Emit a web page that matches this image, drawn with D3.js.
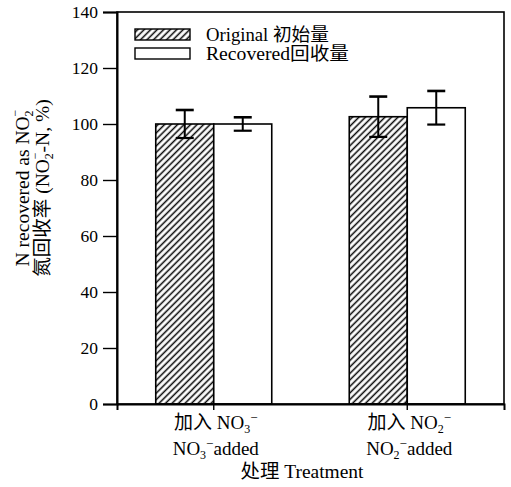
<!DOCTYPE html>
<html>
<head>
<meta charset="utf-8">
<script src="https://cdn.jsdelivr.net/npm/d3@7"></script>
<style>
  body { margin: 0; background: #fff; }
  text { font-family: "Liberation Serif", "Noto Sans CJK SC", serif; fill: #000; }
</style>
</head>
<body>
<div id="chart"></div>
<script>
const groups = ["NO3", "NO2"];
const series = ["Original 初始量", "Recovered回收量"];
const original = [100, 102.6];
const originalErr = [5, 7.2];
const recovered = [100, 105.8];
const recoveredErr = [2.4, 6];
const yTicks = [0, 20, 40, 60, 80, 100, 120, 140];

const w = 511, h = 487;
const mLeft = 117, mRight = 504, mTop = 12, mBottom = 404;

const svg = d3.select("#chart").append("svg")
    .attr("width", w)
    .attr("height", h);

// diagonal hatch for the "original" bars
svg.append("defs").append("pattern")
    .attr("id", "hatch")
    .attr("patternUnits", "userSpaceOnUse")
    .attr("width", 4.6)
    .attr("height", 4.6)
    .attr("patternTransform", "rotate(45)")
    .append("line")
    .attr("x1", 2.3).attr("y1", 0)
    .attr("x2", 2.3).attr("y2", 4.6)
    .attr("stroke", "#000")
    .attr("stroke-width", 1.5);

const y = d3.scaleLinear().domain([0, 140]).range([mBottom, mTop]);
const x0 = d3.scaleBand().domain(groups).range([mLeft, mRight]).padding(0);
const x1 = d3.scaleBand().domain(series).range([0, 116]);

const rows = groups.map((g, i) => ({
    group: g,
    bars: [
        { key: series[0], value: original[i], err: originalErr[i], fill: "url(#hatch)" },
        { key: series[1], value: recovered[i], err: recoveredErr[i], fill: "#fff" }
    ]
}));

const center = g => x0(g) + x0.bandwidth() / 2 - 58;

const gGroups = svg.selectAll(".grp")
    .data(rows)
    .enter().append("g")
    .attr("class", "grp")
    .attr("transform", d => `translate(${center(d.group)},0)`);

gGroups.selectAll("rect")
    .data(d => d.bars)
    .enter().append("rect")
    .attr("x", d => x1(d.key))
    .attr("y", d => y(d.value))
    .attr("width", x1.bandwidth())
    .attr("height", d => y(0) - y(d.value))
    .attr("fill", d => d.fill)
    .attr("stroke", "#000")
    .attr("stroke-width", 1.6);

// error bars
const eb = gGroups.selectAll(".err")
    .data(d => d.bars)
    .enter().append("g")
    .attr("class", "err")
    .attr("stroke", "#000")
    .attr("stroke-width", 2);
const ex = d => x1(d.key) + x1.bandwidth() / 2;
eb.append("line")
    .attr("x1", ex).attr("x2", ex)
    .attr("y1", d => y(d.value + d.err))
    .attr("y2", d => y(d.value - d.err));
eb.append("line")
    .attr("x1", d => ex(d) - 9).attr("x2", d => ex(d) + 9)
    .attr("y1", d => y(d.value + d.err)).attr("y2", d => y(d.value + d.err))
    .attr("stroke-width", 2.6);
eb.append("line")
    .attr("x1", d => ex(d) - 9).attr("x2", d => ex(d) + 9)
    .attr("y1", d => y(d.value - d.err)).attr("y2", d => y(d.value - d.err))
    .attr("stroke-width", 2.2);

// frame
svg.append("rect")
    .attr("x", mLeft).attr("y", mTop)
    .attr("width", mRight - mLeft).attr("height", mBottom - mTop)
    .attr("fill", "none")
    .attr("stroke", "#000")
    .attr("stroke-width", 1.6);

const yAxis = d3.axisLeft(y).tickValues(yTicks).tickSize(14).tickPadding(5);
const ya = svg.append("g")
    .attr("transform", `translate(${mLeft},0)`)
    .call(yAxis);
ya.select(".domain").attr("stroke-width", 2);
ya.selectAll(".tick line").attr("stroke-width", 1.4);
ya.selectAll("text").style("font-size", "17.5px");

const xAxis = d3.axisBottom(x0).tickSize(6).tickFormat("");
const xa = svg.append("g")
    .attr("transform", `translate(0,${mBottom})`)
    .call(xAxis);
xa.select(".domain").attr("stroke-width", 2);
xa.selectAll(".tick line").attr("stroke-width", 1.4);

// x labels
const xLab = svg.append("g").style("font-size", "19px").attr("text-anchor", "middle");
groups.forEach(g => {
    const cx = x0(g) + x0.bandwidth() / 2 + 2;
    const sub = g === "NO3" ? "3" : "2";
    const t1 = xLab.append("text").attr("x", cx).attr("y", 429);
    t1.append("tspan").text("加入 NO");
    t1.append("tspan").attr("dy", 4).style("font-size", "12px").text(sub);
    t1.append("tspan").attr("dy", -11).style("font-size", "13px").text("−");
    const t2 = xLab.append("text").attr("x", cx).attr("y", 455);
    t2.append("tspan").text("NO");
    t2.append("tspan").attr("dy", 4).style("font-size", "12px").text(sub);
    t2.append("tspan").attr("dy", -11).style("font-size", "13px").text("−");
    t2.append("tspan").attr("dy", 7).text("added");
});
xLab.append("text").attr("x", 302).attr("y", 478)
    .attr("textLength", 123).attr("lengthAdjust", "spacingAndGlyphs")
    .text("处理 Treatment");

// y title
const yt = svg.append("g")
    .attr("transform", "translate(29,188) rotate(-90)")
    .style("font-size", "19.5px")
    .attr("text-anchor", "middle");
const l1 = yt.append("text").attr("x", 0).attr("y", 0);
l1.append("tspan").text("N recovered as NO");
l1.append("tspan").attr("dy", 4).style("font-size", "12px").text("2");
l1.append("tspan").attr("dx", -6).attr("dy", -14).style("font-size", "12px").text("−");
const l2 = yt.append("text").attr("x", 0).attr("y", 20);
l2.append("tspan").text("氮回收率 (NO");
l2.append("tspan").attr("dy", 4).style("font-size", "12px").text("2");
l2.append("tspan").attr("dx", -6).attr("dy", -14).style("font-size", "12px").text("−");
l2.append("tspan").attr("dy", 10).text("-N, %)");

// legend
const legend = svg.selectAll(".legend")
    .data([{ name: series[0], fill: "url(#hatch)", len: 123 }, { name: series[1], fill: "#fff", len: 143 }])
    .enter().append("g")
    .attr("class", "legend")
    .attr("transform", (d, i) => `translate(135,${29 + i * 19})`);
legend.append("rect")
    .attr("width", 55)
    .attr("height", 11)
    .attr("fill", d => d.fill)
    .attr("stroke", "#000")
    .attr("stroke-width", 1.4);
legend.append("text")
    .attr("x", 71)
    .attr("y", 12)
    .style("font-size", "18px")
    .attr("textLength", d => d.len)
    .attr("lengthAdjust", "spacingAndGlyphs")
    .text(d => d.name);
</script>
</body>
</html>
